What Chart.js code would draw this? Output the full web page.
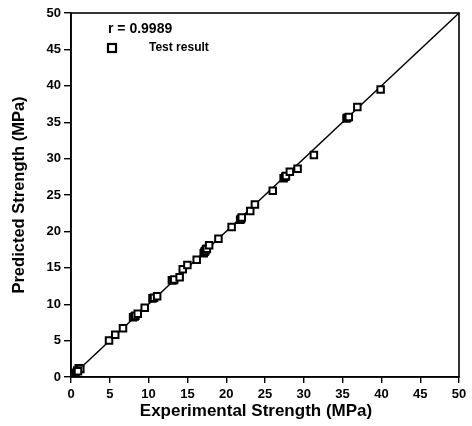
<!DOCTYPE html>
<html>
<head>
<meta charset="utf-8">
<script src="https://cdn.jsdelivr.net/npm/chart.js@4/dist/chart.umd.min.js"></script>
<style>
html,body{margin:0;padding:0;background:#fff;}
#wrap{width:472px;height:426px;position:relative;}
</style>
</head>
<body>
<div id="wrap"><canvas id="c" width="472" height="426"></canvas></div>
<script>
// Data
const experimental = [0.3,0.6,0.8,1.0,1.2,0.9,4.9,5.7,6.7,8.0,8.2,8.3,8.6,9.5,10.5,10.7,11.1,13.0,13.2,13.3,14.0,14.4,15.0,16.2,17.1,17.2,17.3,17.4,17.5,17.8,19.0,20.7,21.8,21.9,22.0,23.1,23.7,26.0,27.4,27.6,27.7,28.2,29.2,31.3,35.5,35.6,35.8,36.9,39.9];
const predicted    = [0.3,0.6,0.9,1.2,1.1,0.8,5.0,5.8,6.7,8.2,8.3,8.4,8.7,9.5,10.8,10.9,11.1,13.3,13.3,13.4,13.7,14.8,15.4,16.1,17.0,17.2,17.3,17.5,17.6,18.1,19.0,20.6,21.6,21.7,21.9,22.8,23.7,25.6,27.3,27.5,27.6,28.2,28.6,30.5,35.5,35.6,35.7,37.1,39.5];
const lineX = [0, 50];
const lineY = [0, 50];
const axisTicks = [0,5,10,15,20,25,30,35,40,45,50];
const rText = 'r = 0.9989';
const seriesName = 'Test result';
const xTitle = 'Experimental Strength (MPa)';
const yTitle = 'Predicted Strength (MPa)';

const pts = experimental.map((x, i) => ({x: x, y: predicted[i]}));
const linePts = lineX.map((x, i) => ({x: x, y: lineY[i]}));

const FONT = "'Liberation Sans', Arial, sans-serif";

const framePlugin = {
  id: 'frame',
  afterDraw(chart) {
    const {ctx, chartArea: a} = chart;
    ctx.save();
    ctx.strokeStyle = '#000';
    ctx.lineWidth = 1.6;
    ctx.strokeRect(a.left, a.top, a.right - a.left, a.bottom - a.top);
    // legend
    ctx.fillStyle = '#000';
    ctx.textBaseline = 'middle';
    ctx.textAlign = 'left';
    ctx.font = 'bold 14px ' + FONT;
    ctx.fillText(rText, a.left + 37, a.top + 16);
    ctx.lineWidth = 2.2;
    ctx.fillStyle = '#fff';
    ctx.fillRect(a.left + 37, a.top + 31, 8, 8);
    ctx.strokeRect(a.left + 37, a.top + 31, 8, 8);
    ctx.fillStyle = '#000';
    ctx.font = 'bold 12px ' + FONT;
    ctx.fillText(seriesName, a.left + 78, a.top + 35);
    // x axis title
    ctx.font = 'bold 17px ' + FONT;
    ctx.textAlign = 'center';
    ctx.fillText(xTitle, (a.left + a.right) / 2 - 9, 411);
    ctx.restore();
  }
};

new Chart(document.getElementById('c'), {
  type: 'scatter',
  data: {
    datasets: [
      {
        label: seriesName,
        data: pts,
        pointStyle: 'rect',
        pointRadius: 4.6,
        pointBorderWidth: 2,
        borderColor: '#000',
        backgroundColor: '#fff',
        pointBackgroundColor: '#fff',
        pointBorderColor: '#000',
        showLine: false
      },
      {
        label: 'line',
        data: linePts,
        showLine: true,
        pointRadius: 0,
        borderColor: '#000',
        borderWidth: 1.4,
        fill: false
      }
    ]
  },
  options: {
    responsive: false,
    animation: false,
    layout: {padding: {top: 13, right: 13, left: 0, bottom: 0}},
    plugins: {legend: {display: false}, tooltip: {enabled: false}},
    scales: {
      x: {
        type: 'linear', min: 0, max: 50,
        afterBuildTicks(s) { s.ticks = axisTicks.map(v => ({value: v})); },
        afterFit(s) { s.height = 49; },
        ticks: {color: '#000', font: {family: FONT, size: 13, weight: 'bold'}, padding: 4, maxRotation: 0},
        grid: {drawOnChartArea: false, drawTicks: true, tickLength: 6, color: '#000', lineWidth: 1.4},
        border: {display: true, color: '#000', width: 1.6},
        title: {display: false, text: xTitle}
      },
      y: {
        type: 'linear', min: 0, max: 50,
        afterBuildTicks(s) { s.ticks = axisTicks.map(v => ({value: v})); },
        afterFit(s) { s.width = 71; },
        ticks: {color: '#000', font: {family: FONT, size: 13, weight: 'bold'}, padding: 3},
        grid: {drawOnChartArea: false, drawTicks: true, tickLength: 7, color: '#000', lineWidth: 1.4},
        border: {display: true, color: '#000', width: 1.6},
        title: {display: true, text: yTitle, color: '#000', font: {family: FONT, size: 16.5, weight: 'bold'}, padding: {top: 10, bottom: 0}}
      }
    }
  },
  plugins: [framePlugin]
});
</script>
</body>
</html>
